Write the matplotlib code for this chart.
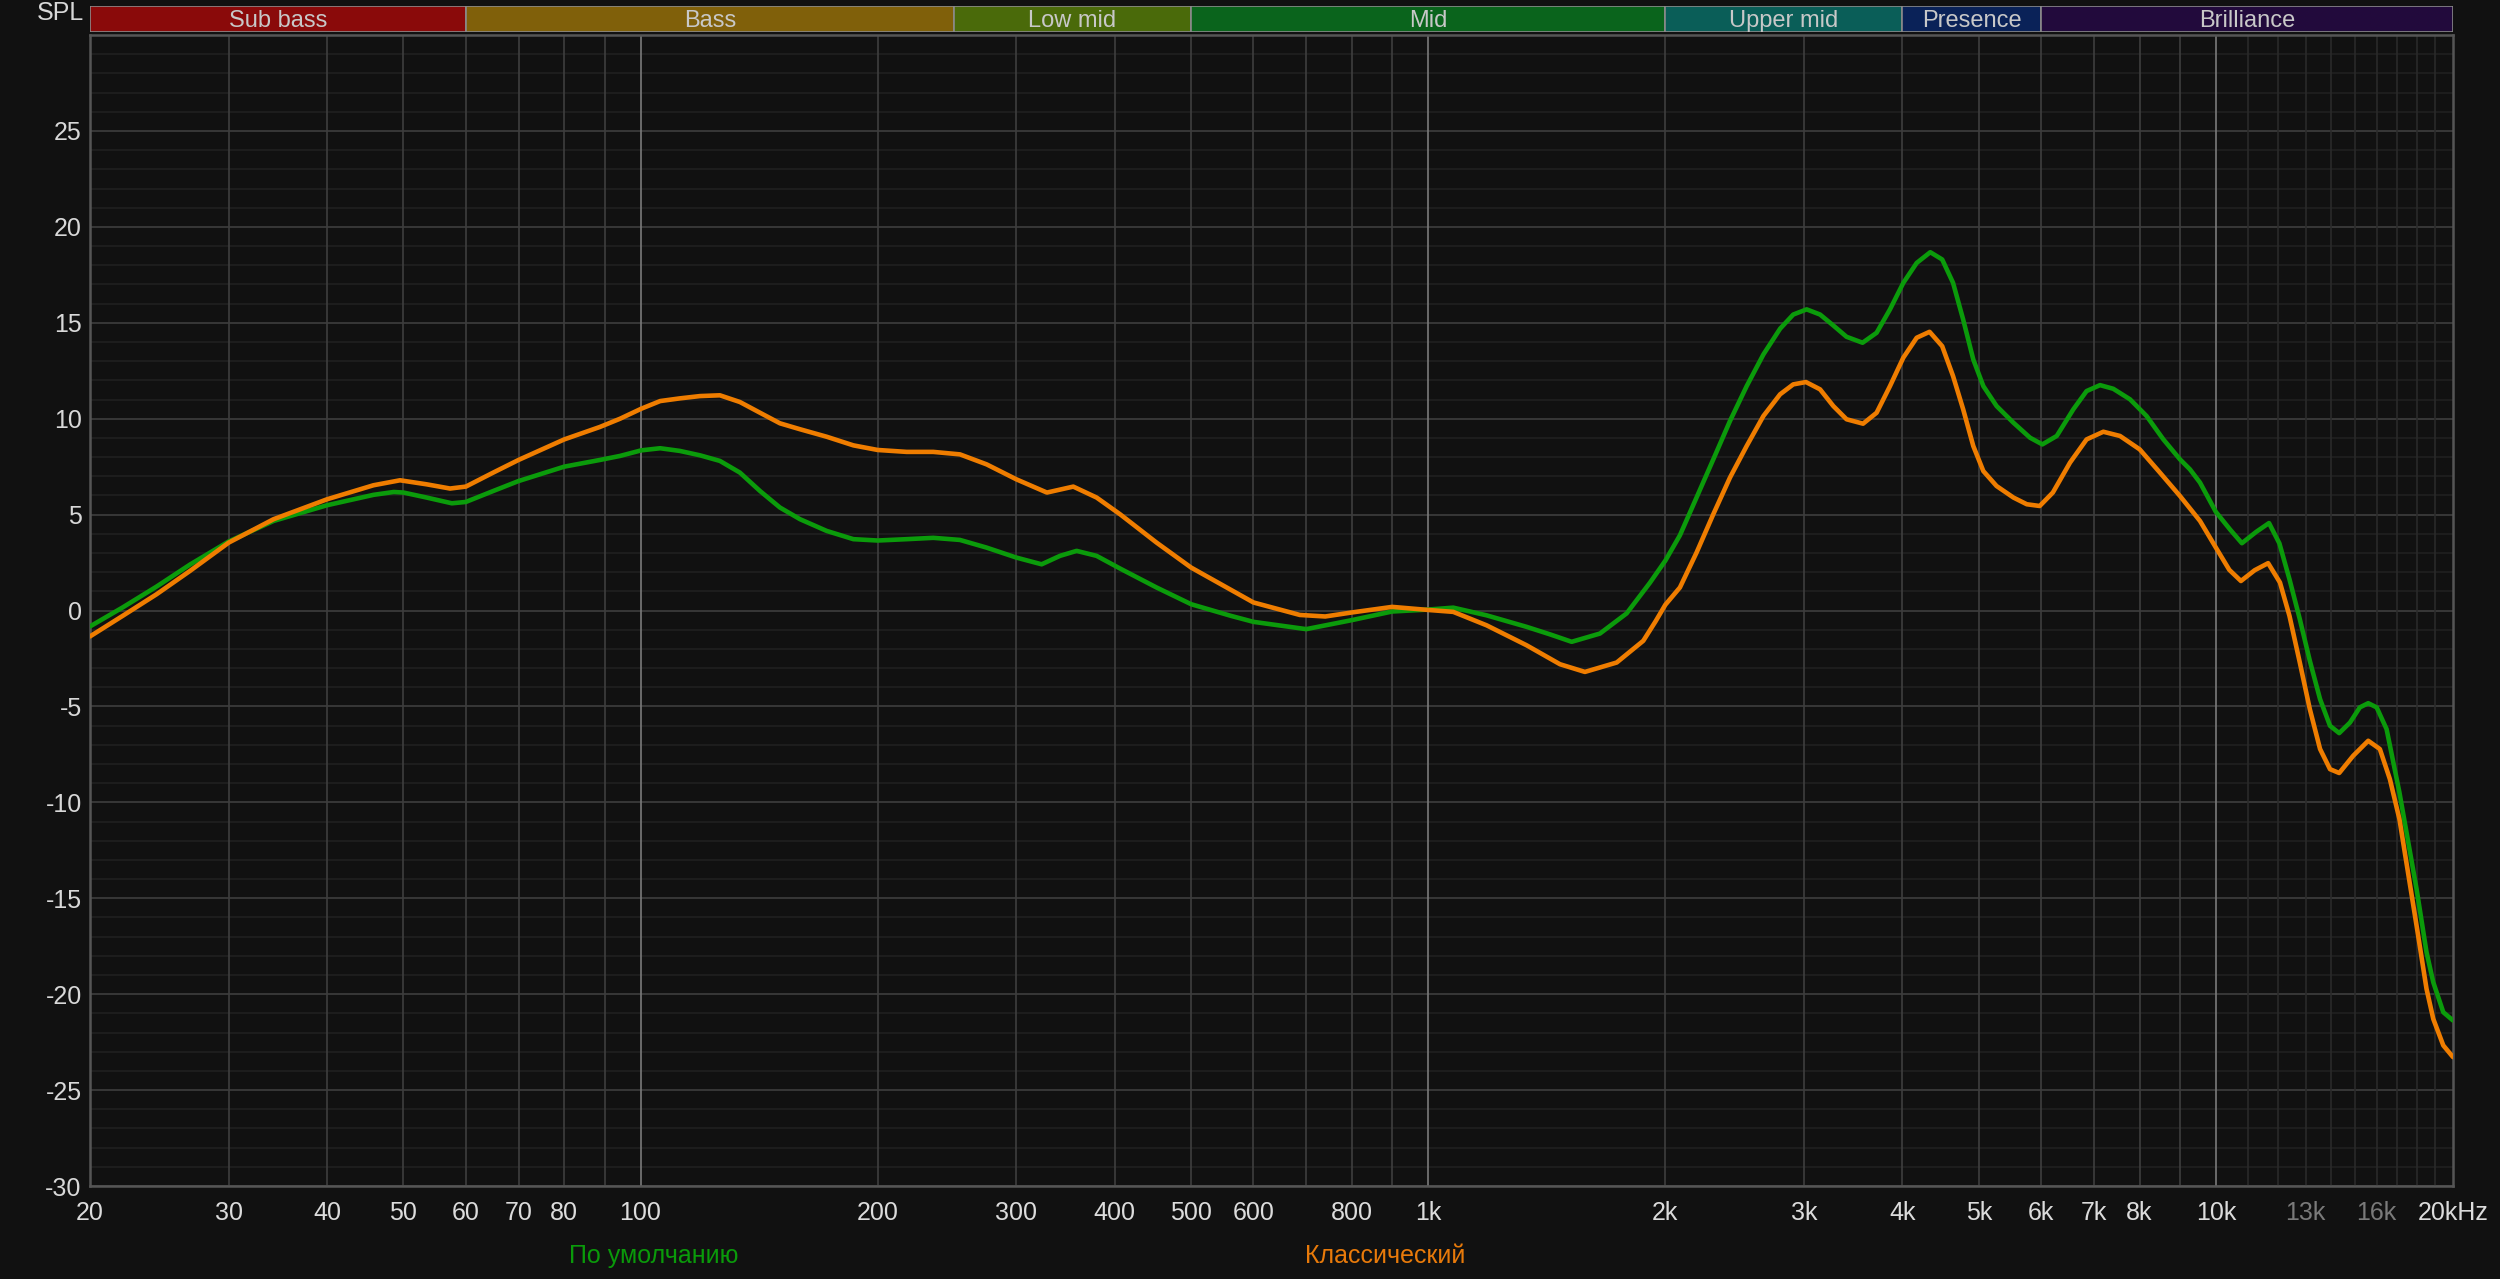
import matplotlib.pyplot as plt

# "По умолчанию" (green) curve
freq_default = [20, 22, 24.3, 26.8, 30, 34.2, 40, 45.8, 48.6, 50, 53.5, 57.6, 60, 65, 70, 80,
                88.8, 94.2, 100.2, 105.9, 112.2, 119, 126.1, 133.7, 141.8, 150.3, 159.4, 172.3,
                186.3, 200, 217.7, 235.3, 254.4, 275, 300, 323, 340.8, 357.8, 379.3, 406.2, 452,
                500, 562, 600, 700, 800, 900, 1000, 1076, 1186, 1333, 1427, 1521, 1652, 1786,
                1912, 2000, 2087, 2191, 2301, 2416, 2537, 2664, 2797, 2907, 3023, 3144, 3268,
                3397, 3560, 3709, 3857, 4010, 4170, 4339, 4493, 4638, 4777, 4920, 5067, 5267,
                5533, 5808, 6021, 6280, 6592, 6852, 7127, 7408, 7780, 8166, 8577, 9004, 9270,
                9546, 10000, 10430, 10790, 11250, 11680, 12040, 12400, 12780, 13160, 13560,
                13960, 14340, 14800, 15230, 15610, 16000, 16470, 17100, 17980, 18510, 18880,
                19440, 20000]
spl_default = [-0.83, 0.16, 1.25, 2.40, 3.6, 4.67, 5.49, 6.03, 6.18, 6.15, 5.89, 5.59, 5.66, 6.23,
               6.75, 7.50, 7.85, 8.06, 8.35, 8.46, 8.32, 8.09, 7.80, 7.19, 6.23, 5.37, 4.76, 4.15,
               3.72, 3.65, 3.72, 3.79, 3.68, 3.28, 2.76, 2.41, 2.85, 3.11, 2.85, 2.19, 1.20,
               0.33, -0.28, -0.59, -0.97, -0.5, -0.05, 0.05, 0.15, -0.25, -0.85, -1.24, -1.63,
               -1.2, -0.15, 1.45, 2.6, 3.92, 5.89, 7.88, 9.88, 11.70, 13.35, 14.69, 15.43, 15.70,
               15.43, 14.86, 14.27, 13.96, 14.48, 15.70, 17.08, 18.12, 18.68, 18.30, 17.08,
               15.17, 13.09, 11.70, 10.66, 9.79, 9.01, 8.66, 9.10, 10.49, 11.44, 11.75, 11.56,
               11.01, 10.14, 8.92, 7.88, 7.36, 6.67, 5.14, 4.21, 3.51, 4.1, 4.56, 3.5, 1.63,
               -0.45, -2.62, -4.62, -6.01, -6.39, -5.84, -5.05, -4.83, -5.05, -6.18, -9.48,
               -14.52, -17.81, -19.38, -20.94, -21.37]

# "Классический" (orange) curve
freq_classic = [20, 22, 24.3, 26.8, 30, 34.2, 40, 45.8, 49.5, 53.5, 57.3, 60, 65, 70, 80, 88.8,
                94.2, 100.2, 105.9, 112.2, 119, 126.1, 133.7, 141.8, 150.3, 159.4, 172.3, 186.3,
                200, 217.7, 235.3, 254.4, 275, 300, 328, 354.3, 379.3, 406.2, 452, 500, 600, 687,
                740, 800, 900, 1000, 1076, 1186, 1333, 1470, 1581, 1735, 1875, 1944, 2000, 2087,
                2191, 2301, 2416, 2537, 2664, 2797, 2907, 3017, 3144, 3268, 3397, 3565, 3709,
                3857, 4010, 4170, 4330, 4493, 4638, 4777, 4920, 5067, 5267, 5533, 5753, 5975,
                6209, 6528, 6852, 7196, 7556, 8004, 8491, 9004, 9546, 10000, 10400, 10760,
                11200, 11650, 12060, 12400, 12780, 13160, 13560, 13960, 14340, 14940, 15610,
                16150, 16630, 17100, 17980, 18510, 18880, 19440, 20000]
spl_classic = [-1.35, -0.28, 0.85, 2.07, 3.54, 4.76, 5.80, 6.53, 6.79, 6.58, 6.36, 6.46, 7.19,
               7.85, 8.92, 9.57, 10.0, 10.52, 10.92, 11.06, 11.18, 11.22, 10.87, 10.31, 9.76,
               9.45, 9.06, 8.61, 8.37, 8.27, 8.27, 8.14, 7.62, 6.84, 6.15, 6.46, 5.89, 5.02,
               3.54, 2.24, 0.42, -0.23, -0.31, -0.1, 0.19, 0.03, -0.07, -0.77, -1.81, -2.80,
               -3.20, -2.71, -1.58, -0.56, 0.3, 1.20, 3.02, 5.02, 6.93, 8.58, 10.14, 11.27,
               11.79, 11.91, 11.53, 10.66, 9.97, 9.74, 10.31, 11.70, 13.18, 14.22, 14.53, 13.78,
               12.22, 10.49, 8.58, 7.27, 6.49, 5.89, 5.54, 5.45, 6.15, 7.71, 8.92, 9.32, 9.10,
               8.40, 7.19, 5.97, 4.67, 3.28, 2.12, 1.54, 2.1, 2.47, 1.46, -0.28, -2.71, -5.14,
               -7.22, -8.27, -8.47, -7.57, -6.79, -7.22, -8.79, -10.87, -16.43, -19.72, -21.29,
               -22.67, -23.28]

band_names = ['Sub bass', 'Bass', 'Low mid', 'Mid', 'Upper mid', 'Presence', 'Brilliance']
band_edges = [20, 60, 250, 500, 2000, 4000, 6000, 20000]
band_colors = ['#8a0a0a', '#80600a', '#4a6a0a', '#0a641c', '#0a5e58', '#0a2258', '#220a3c']

tick_freqs = [20, 30, 40, 50, 60, 70, 80, 100, 200, 300, 400, 500, 600, 800, 1000, 2000, 3000,
              4000, 5000, 6000, 7000, 8000, 10000, 13000, 16000, 20000]
tick_labels = ['20', '30', '40', '50', '60', '70', '80', '100', '200', '300', '400', '500', '600',
               '800', '1k', '2k', '3k', '4k', '5k', '6k', '7k', '8k', '10k', '13k', '16k', '20kHz']
spl_ticks = [-30, -25, -20, -15, -10, -5, 0, 5, 10, 15, 20, 25]

BG = '#111111'
GREEN = '#0b9b0b'
ORANGE = '#ef7d00'
FONT = ['Liberation Sans', 'DejaVu Sans']


def main():
    fig = plt.figure(figsize=(25, 12.79), dpi=100, facecolor=BG)

    # frequency band strip on top
    bax = fig.add_axes([0.036, 0.9750, 0.9452, 0.0203])
    bax.set_facecolor(BG)
    bax.set_xscale('log')
    bax.set_xlim(20, 20000)
    bax.set_ylim(0, 1)
    for i, name in enumerate(band_names):
        lo, hi = band_edges[i], band_edges[i + 1]
        bax.axvspan(lo, hi, color=band_colors[i], ec='#8a8a8a', lw=1.2)
        bax.text((lo * hi) ** 0.5, 0.42, name, ha='center', va='center',
                 color='#c8c8c8', fontsize=17, family=FONT)
    bax.axis('off')

    ax = fig.add_axes([0.036, 0.0727, 0.9452, 0.8999])
    ax.set_facecolor(BG)
    ax.set_xscale('log')
    ax.set_xlim(20, 20000)
    ax.set_ylim(-30, 30)

    # grid
    for db in range(-30, 31):
        c = '#3e3e3e' if db % 5 == 0 else '#202020'
        ax.axhline(db, color=c, lw=1.2, zorder=1)
    for decade in [10, 100, 1000]:
        for m in range(2, 10):
            f = decade * m
            if f < 20:
                continue
            ax.axvline(f, color='#3e3e3e', lw=1.2, zorder=1)
        ax.axvline(decade * 10, color='#7a7a7a', lw=1.2, zorder=1)
    for m in range(11, 20):
        ax.axvline(m * 1000, color='#2a2a2a', lw=1.2, zorder=1)

    ax.plot(freq_default, spl_default, color=GREEN, lw=3.3, zorder=3,
            solid_joinstyle='round', solid_capstyle='round')
    ax.plot(freq_classic, spl_classic, color=ORANGE, lw=3.3, zorder=4,
            solid_joinstyle='round', solid_capstyle='round')

    ax.set_xticks(tick_freqs)
    ax.set_xticklabels(tick_labels, family=FONT, fontsize=18)
    ax.minorticks_off()
    for lbl, f in zip(ax.get_xticklabels(), tick_freqs):
        lbl.set_color('#7a7a7a' if f in (13000, 16000) else '#dcdcdc')
    ax.set_yticks(spl_ticks)
    ax.set_yticklabels([str(v) for v in spl_ticks], family=FONT, fontsize=18, color='#d8d8d8')
    ax.tick_params(axis='x', length=0, pad=11)
    ax.tick_params(axis='y', length=0, pad=6)

    for side in ['left', 'bottom', 'top', 'right']:
        ax.spines[side].set_color('#555555')
        ax.spines[side].set_linewidth(1.8)

    fig.text(84 / 2500, 1 - 13 / 1279, 'SPL', ha='right', va='center',
             color='#d8d8d8', fontsize=18, family=FONT)
    fig.text(654 / 2500, 1 - 1256 / 1279, 'По умолчанию', ha='center', va='center',
             color='#0a9a0a', fontsize=18, family=FONT)
    fig.text(1385 / 2500, 1 - 1256 / 1279, 'Классический', ha='center', va='center',
             color='#e87a0a', fontsize=18, family=FONT)

    fig.savefig('out.png', dpi=100, facecolor=BG)


if __name__ == "__main__":
    main()
